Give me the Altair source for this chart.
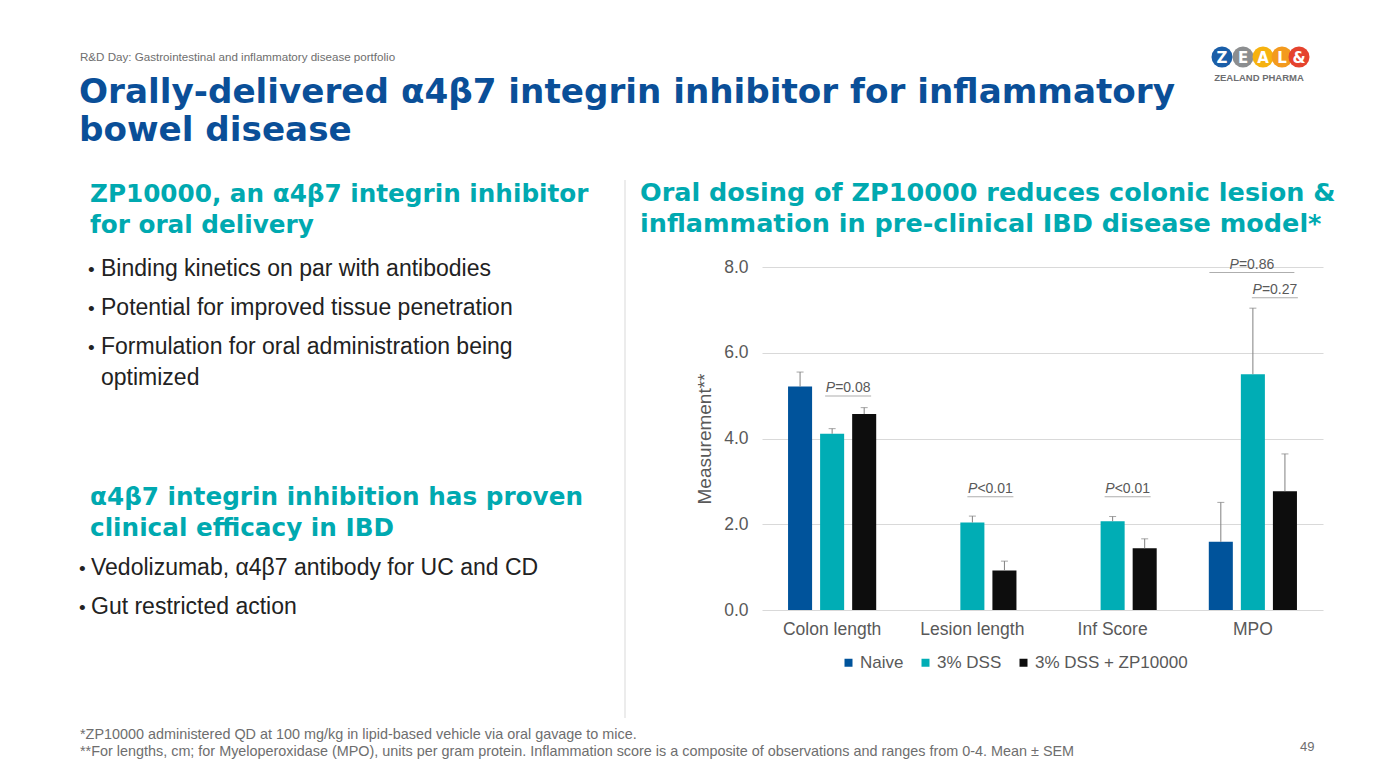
import altair as alt
import pandas as pd

# ---------------- data ----------------
categories = ["Colon length", "Lesion length", "Inf Score", "MPO"]
series = ["Naive", "3% DSS", "3% DSS + ZP10000"]
naive_mean = [5.21, None, None, 1.59]
naive_sem = [0.34, None, None, 0.92]
dss_mean = [4.11, 2.04, 2.07, 5.50]
dss_sem = [0.12, 0.15, 0.11, 1.54]
zp_mean = [4.57, 0.92, 1.44, 2.77]
zp_sem = [0.15, 0.22, 0.22, 0.87]
series_colors = ["#00539B", "#00ADB5", "#0D0D0D"]
y_ticks = [0, 2, 4, 6, 8]

p_categories = ["Colon length", "Lesion length", "Inf Score", "MPO", "MPO"]
p_texts = ["=0.08", "<0.01", "<0.01", "=0.27", "=0.86"]
p_text_y = [5.18, 2.82, 2.82, 7.46, 8.05]
p_line_y = [4.99, 2.64, 2.64, 7.28, 7.87]

rows = []
for s, means, sems in zip(series, [naive_mean, dss_mean, zp_mean], [naive_sem, dss_sem, zp_sem]):
    for c, m, e in zip(categories, means, sems):
        if m is None:
            continue
        rows.append({"category": c, "series": s, "value": m, "upper": round(m + e, 3)})
df = pd.DataFrame(rows)

# ---------------- layout (slide pixel frame) ----------------
OX, OY = 762, 267          # plot-area origin on the slide
PW, PH = 561, 343          # plot-area size
TOTAL_W, TOTAL_H = 1371, 762

GREY = "#595959"
BLUE = "#0A4F98"
TEAL = "#00A9B0"
BODY = "#222222"
FONT = "Liberation Sans"
HEAVY = "DejaVu Sans"

x_enc = alt.X("category:N", sort=categories,
              scale=alt.Scale(domain=categories, paddingInner=0.3714, paddingOuter=0.1857),
              axis=alt.Axis(title=None, labelAngle=0, labelFontSize=17.5, labelColor=GREY,
                            labelFont=FONT, labelPadding=10, domain=False, ticks=False, grid=False))
xo_enc = alt.XOffset("series:N", sort=series,
                     scale=alt.Scale(domain=series, paddingInner=0.25, paddingOuter=0))
y_enc = alt.Y("value:Q",
              scale=alt.Scale(domain=[0, 8], nice=False),
              axis=alt.Axis(title="Measurement**", values=y_ticks, format=".1f",
                            labelFontSize=17.5, labelColor=GREY, labelFont=FONT, labelPadding=14,
                            titleFontSize=19, titleColor=GREY, titleFont=FONT,
                            titleFontWeight="normal", titlePadding=9,
                            domain=False, ticks=False, grid=True,
                            gridColor="#D9D9D9", gridWidth=1))

base = alt.Chart(df)

bars = base.mark_bar().encode(
    x=x_enc, xOffset=xo_enc, y=y_enc,
    color=alt.Color("series:N", sort=series,
                    scale=alt.Scale(domain=series, range=series_colors),
                    legend=alt.Legend(title=None, orient="none", legendX=78, legendY=387,
                                      direction="horizontal", symbolType="square",
                                      symbolSize=64, symbolStrokeWidth=0,
                                      labelFontSize=17, labelColor=GREY, labelFont=FONT,
                                      labelOffset=3, columnPadding=13, padding=0)),
)

err = base.mark_rule(color="#808080", strokeWidth=1).encode(
    x=alt.X("category:N", sort=categories), xOffset=alt.XOffset("series:N", sort=series),
    y="value:Q", y2="upper:Q")
caps = base.mark_tick(color="#808080", size=7, thickness=1).encode(
    x=alt.X("category:N", sort=categories), xOffset=alt.XOffset("series:N", sort=series),
    y="upper:Q")

layers = [bars, err, caps]

# p-value annotations
p_shift = [16, 18, 15, 22, -1]
p_line_len = [46, 46, 46, 46, 85]
for i in range(len(p_texts)):
    adf = pd.DataFrame({"category": [p_categories[i]], "ty": [p_text_y[i]],
                        "ly": [p_line_y[i]], "t": [p_texts[i]]})
    ac = alt.Chart(adf)
    layers.append(ac.mark_text(text="P", fontStyle="italic", align="right", baseline="middle",
                               fontSize=14, font=FONT, color=GREY, dx=p_shift[i] - 13).encode(
        x=alt.X("category:N", sort=categories), y="ty:Q"))
    layers.append(ac.mark_text(align="left", baseline="middle", fontSize=14, font=FONT,
                               color=GREY, dx=p_shift[i] - 13).encode(
        x=alt.X("category:N", sort=categories), y="ty:Q", text="t:N"))
    layers.append(ac.mark_tick(size=p_line_len[i], thickness=1, color="#8C8C8C",
                               xOffset=p_shift[i]).encode(
        x=alt.X("category:N", sort=categories), y="ly:Q"))

# ---------------- slide decoration ----------------
dummy = pd.DataFrame({"d": [0]})


def txt(s, X, Y, size, color, weight="normal", font=FONT, align="left", style="normal"):
    return alt.Chart(dummy).mark_text(
        text=s, fontSize=size, color=color, fontWeight=weight, font=font,
        align=align, baseline="alphabetic", fontStyle=style
    ).encode(x=alt.value(X - OX), y=alt.value(Y - OY))


deco = [
    txt("R&D Day: Gastrointestinal and inflammatory disease portfolio", 80, 61, 11.6, "#6E6E6E"),
    txt("Orally-delivered α4β7 integrin inhibitor for inflammatory", 79, 103, 34.2, BLUE, "bold", HEAVY),
    txt("bowel disease", 79, 141, 34.2, BLUE, "bold", HEAVY),
    txt("ZP10000, an α4β7 integrin inhibitor", 90, 202, 24.7, TEAL, "bold", HEAVY),
    txt("for oral delivery", 90, 233, 24.7, TEAL, "bold", HEAVY),
    txt("•", 88, 276, 19, BODY),
    txt("Binding kinetics on par with antibodies", 101, 276, 23, BODY),
    txt("•", 88, 315, 19, BODY),
    txt("Potential for improved tissue penetration", 101, 315, 23, BODY),
    txt("•", 88, 354, 19, BODY),
    txt("Formulation for oral administration being", 101, 354, 23, BODY),
    txt("optimized", 101, 385, 23, BODY),
    txt("α4β7 integrin inhibition has proven", 90, 505, 24.7, TEAL, "bold", HEAVY),
    txt("clinical efficacy in IBD", 90, 536, 24.7, TEAL, "bold", HEAVY),
    txt("•", 79, 575, 19, BODY),
    txt("Vedolizumab, α4β7 antibody for UC and CD", 91, 575, 23, BODY),
    txt("•", 79, 614, 19, BODY),
    txt("Gut restricted action", 91, 614, 23, BODY),
    txt("Oral dosing of ZP10000 reduces colonic lesion &", 640, 201, 25.5, TEAL, "bold", HEAVY),
    txt("inflammation in pre-clinical IBD disease model*", 640, 232, 25.5, TEAL, "bold", HEAVY),
    txt("*ZP10000 administered QD at 100 mg/kg in lipid-based vehicle via oral gavage to mice.", 80, 739, 14.4, "#6E6E6E"),
    txt("**For lengths, cm; for Myeloperoxidase (MPO), units per gram protein. Inflammation score is a composite of observations and ranges from 0-4. Mean ± SEM", 80, 756, 14.4, "#6E6E6E"),
    txt("49", 1300, 751, 13, "#6E6E6E"),
]

divider = alt.Chart(dummy).mark_rule(color="#D9D9D9", strokeWidth=1).encode(
    x=alt.value(625 - OX), y=alt.value(180 - OY), y2=alt.value(718 - OY))

logo_colors = ["#8C8E90", "#1A5EA8", "#F6B20F", "#F39A1E", "#E5432E"]
logo_cx = [1243, 1222, 1263, 1282, 1299]
logo_letters = ["E", "Z", "A", "L", "&"]
logo = []
for cx, col in zip(logo_cx, logo_colors):
    logo.append(alt.Chart(dummy).mark_circle(size=440, color=col, opacity=1).encode(
        x=alt.value(cx - OX), y=alt.value(57 - OY)))
for cx, let in zip(logo_cx, logo_letters):
    logo.append(alt.Chart(dummy).mark_text(text=let, fontSize=15, fontWeight="bold", font=HEAVY,
                                           color="white", baseline="middle", align="center").encode(
        x=alt.value(cx - OX), y=alt.value(58 - OY)))
logo.append(alt.Chart(dummy).mark_text(text="ZEALAND PHARMA", fontSize=9.5, fontWeight="bold",
                                       font=FONT, color="#6D6E71", baseline="middle",
                                       align="center").encode(
    x=alt.value(1259 - OX), y=alt.value(78 - OY)))

chart = alt.layer(*layers, *deco, divider, *logo).properties(
    width=PW, height=PH,
    padding={"left": OX - 8, "top": OY - 8, "right": TOTAL_W - (OX - 8) - PW,
             "bottom": TOTAL_H - (OY - 8) - PH},
    autosize=alt.AutoSizeParams(type="none"),
    background="white",
).configure_view(strokeWidth=0)

chart.save("out.html", embed_options={"renderer": "svg", "actions": False})
